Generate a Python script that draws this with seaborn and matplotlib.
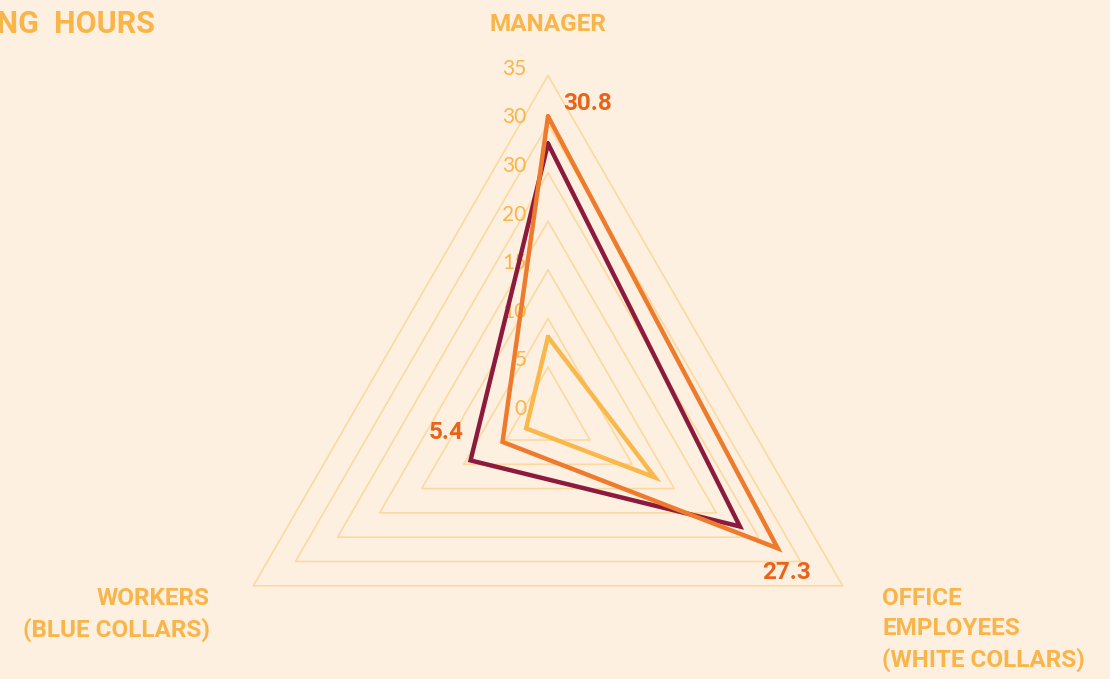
import numpy as np
import pandas as pd
import matplotlib
matplotlib.use("Agg")
import matplotlib.pyplot as plt
import seaborn as sns

# Radar data: average working hours per role
categories = ["MANAGER", "OFFICE\nEMPLOYEES\n(WHITE COLLARS)", "WORKERS\n(BLUE COLLARS)"]
series_names = ["low", "mid", "high"]
values_low = [8.1, 12.7, 2.6]
values_mid = [28.0, 22.8, 9.2]
values_high = [30.8, 27.3, 5.4]
grid_levels = [5, 10, 15, 20, 25, 30, 35]
tick_values = [35, 30, 25, 20, 15, 10, 5, 0]
tick_labels = ["35", "30", "30", "20", "15", "10", "5", "0"]
title = "WORKING HOURS"

BG = "#FEF0E1"
GRID = "#FBD9A0"
LABEL = "#F8B54A"
VALUE = "#E9631A"
colors = {"low": "#F9B84C", "mid": "#8C1A3C", "high": "#EE7A2C"}
BOLD = ["Roboto", "DejaVu Sans"]

sns.set_theme(style="white")
plt.rcParams["font.family"] = ["Lato", "DejaVu Sans"]

angles = np.deg2rad([90, -30, 210])


def to_xy(vals):
    v = np.asarray(vals + vals[:1], dtype=float)
    a = np.concatenate([angles, angles[:1]])
    return v * np.cos(a), v * np.sin(a)


fig = plt.figure(figsize=(11.10, 6.79), dpi=100)
fig.patch.set_facecolor(BG)
ax = fig.add_axes([0, 0, 1, 1])
ax.set_facecolor(BG)

# triangular grid
for lvl in grid_levels:
    gx, gy = to_xy([lvl] * 3)
    ax.plot(gx, gy, color=GRID, lw=1.2, zorder=1)

# radial tick labels
for tv, tl in zip(tick_values, tick_labels):
    ax.text(-2.2, tv + 0.7, tl, ha="right", va="center", color=LABEL,
            fontsize=15, zorder=2)

# series polygons
frames = []
for name, vals in zip(series_names, [values_low, values_mid, values_high]):
    x, y = to_xy(vals)
    frames.append(pd.DataFrame({"x": x, "y": y, "series": name}))
df = pd.concat(frames, ignore_index=True)
for i, name in enumerate(series_names):
    sub = df[df["series"] == name]
    sns.lineplot(data=sub, x="x", y="y", sort=False, estimator=None,
                 color=colors[name], lw=3.2, ax=ax, zorder=3 + i,
                 solid_joinstyle="miter", legend=False)
ax.set_xlim(-56.38, 57.82)
ax.set_ylim(-27.09, 42.77)
ax.axis("off")

# value labels for the highest series
hx, hy = to_xy(values_high)
vkw = dict(color=VALUE, fontsize=17.5, fontweight="bold", family=BOLD,
           va="center", zorder=6)
ax.text(hx[0] + 1.6, hy[0] + 1.3, f"{values_high[0]}", ha="left", **vkw)
ax.text(hx[1] + 0.9, hy[1] - 2.5, f"{values_high[1]}", ha="center", **vkw)
ax.text(hx[2] - 4.0, hy[2] + 1.0, f"{values_high[2]}", ha="right", **vkw)

# category labels
ckw = dict(color=LABEL, fontsize=17.5, fontweight="bold", family=BOLD)
ax.text(0, 40.2, categories[0], ha="center", va="center", **ckw)
ax.text(34.4, -17.6, categories[1], ha="left", va="top", linespacing=1.4, **ckw)
ax.text(-34.8, -17.6, categories[2], ha="right", va="top", linespacing=1.4,
        multialignment="right", **ckw)

# title, running off the left edge
spaced = title.replace(" ", "  ")
fig.text(155 / 1110, 1 - 24 / 679, spaced, color=LABEL, fontsize=22,
         fontweight="bold", family=BOLD, ha="right", va="center")

fig.savefig("out.png", dpi=100, facecolor=BG)
